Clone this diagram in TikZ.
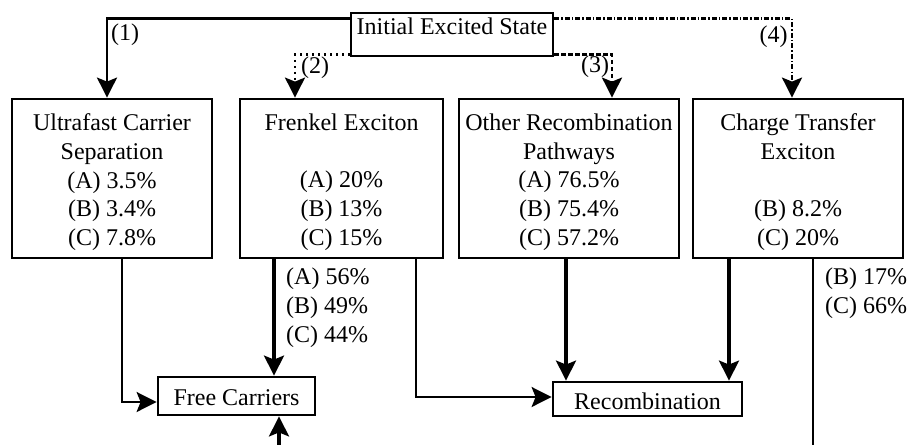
\documentclass[tikz,border=0pt]{standalone}
\usepackage{fontspec}
\setmainfont{Liberation Serif}
\usetikzlibrary{arrows.meta,calc}
\begin{document}
\begin{tikzpicture}[x=1pt,y=-1pt,
  every node/.style={font=\fontsize{24}{28.7}\selectfont, inner sep=0pt},
  box/.style={draw, line width=2.8pt, rectangle, inner sep=0pt},
  txt/.style={align=center, anchor=north},
  lbl/.style={align=left, anchor=north west},
  tip/.style={-{Stealth[length=20pt,width=20pt,inset=4pt]}},
  topline/.style={line width=2.6pt, tip},
  thickarr/.style={line width=3.2pt, tip},
  thinarr/.style={line width=2.1pt, tip},
  thinline/.style={line width=2.1pt},
  dotpat/.style={dash pattern=on 2pt off 4pt},
  dashpat/.style={dash pattern=on 4.5pt off 2.5pt},
  dashdotpat/.style={dash pattern=on 5pt off 2pt on 1.5pt off 2pt}]

\useasboundingbox (0,0) rectangle (909,444);

% top box
\node[box, minimum width=202pt, text height=22pt, text depth=21pt] (init) at (452,34.5) {Initial Excited State};

% middle row
\node[box, minimum width=200pt, minimum height=159pt] (ultra) at (112,178.5) {};
\node[box, minimum width=203pt, minimum height=159pt] (fren) at (341.5,178.5) {};
\node[box, minimum width=220pt, minimum height=159pt] (other) at (569,178.5) {};
\node[box, minimum width=210pt, minimum height=159pt] (ct) at (798,178.5) {};

\node[txt] (ultraT) at ([yshift=-16pt]ultra.north) {Ultrafast Carrier\\Separation\\(A) 3.5\%\\(B) 3.4\%\\(C) 7.8\%};
\node[txt] (frenT) at ([yshift=-16pt]fren.north) {Frenkel Exciton\\[28.7pt](A) 20\%\\(B) 13\%\\(C) 15\%};
\node[txt] (otherT) at ([yshift=-16pt]other.north) {Other Recombination\\Pathways\\(A) 76.5\%\\(B) 75.4\%\\(C) 57.2\%};
\node[txt] (ctT) at ([yshift=-16pt]ct.north) {Charge Transfer\\Exciton\\[28.7pt](B) 8.2\%\\(C) 20\%};

% bottom row
\node[box, minimum width=157pt, text height=28pt, text depth=10pt] (free) at (236.5,396) {Free Carriers};
\node[box, minimum width=189pt, text height=27pt, text depth=7pt] (recomb) at (647.5,399) {Recombination};

% labels
\node (l1) at (125,35) {(1)};
\node (l2) at (315,67.5) {(2)};
\node (l3) at (595,66.5) {(3)};
\node (l4) at (773.5,36.5) {(4)};
\node[lbl] (lfree) at (286,268) {(A) 56\%\\(B) 49\%\\(C) 44\%};
\node[lbl] (lct) at (825,268) {(B) 17\%\\(C) 66\%};

% free ends at the bottom edge
\coordinate (ctend) at (813,446);
\coordinate (frbot) at (279,446);

% top connectors
\draw[topline] ([yshift=-7pt]init.north west) -| ([xshift=-5pt]ultra.north);
\draw[topline, dotpat] ([yshift=3pt]init.south west) -| ([xshift=-46.5pt]fren.north);
\draw[topline, dashpat] ([yshift=3pt]init.south east) -| ([xshift=43pt]other.north);
\draw[topline, dashdotpat] ([yshift=-7pt]init.north east) -| ([xshift=-6pt]ct.north);

% bottom connectors
\draw[thinarr] ([xshift=10pt]ultra.south) |- ([yshift=-6pt]free.west);
\draw[thickarr] ([xshift=-67.5pt]fren.south) -- ([xshift=37.5pt]free.north);
\draw[thinarr] ([xshift=74.5pt]fren.south) |- ([yshift=2pt]recomb.west);
\draw[thickarr] ([xshift=-3pt]other.south) -- ([xshift=-81.5pt]recomb.north);
\draw[thickarr] ([xshift=-69pt]ct.south) -- ([xshift=81.5pt]recomb.north);
\draw[thinline] ([xshift=15pt]ct.south) -- (ctend);
\draw[thickarr] (frbot) -- ([xshift=42.5pt]free.south);
\end{tikzpicture}
\end{document}
